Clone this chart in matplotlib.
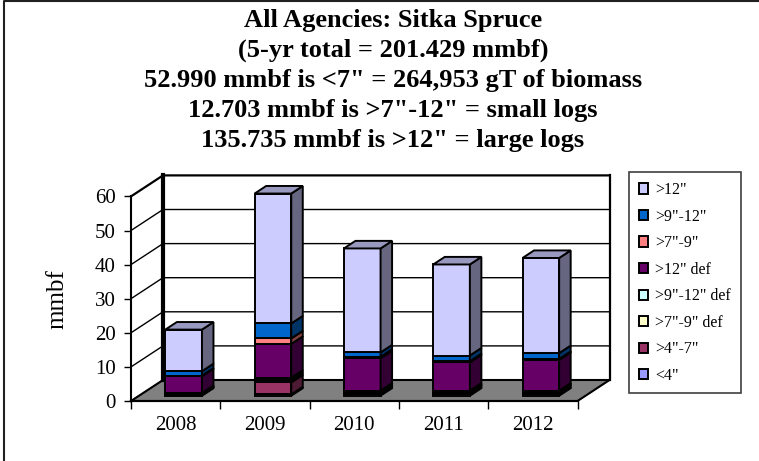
import numpy as np
import matplotlib
matplotlib.use('Agg')
import matplotlib.pyplot as plt
from matplotlib.lines import Line2D
from matplotlib.patches import Patch
from matplotlib.colors import to_rgb

years = ['2008', '2009', '2010', '2011', '2012']
y_ticks = [0, 10, 20, 30, 40, 50, 60]

# mmbf per size class, bottom of the stack first
lt4 = [0.3, 0.4, 0.4, 0.4, 0.4]
g4_7 = [0.2, 3.5, 0.4, 0.4, 0.4]
g7_9_def = [0.15, 0.7, 0.35, 0.35, 0.35]
g9_12_def = [0.15, 0.7, 0.35, 0.35, 0.35]
g12_def = [4.9, 9.9, 9.5, 8.3, 9.0]
g7_9 = [0.2, 1.6, 0.4, 0.3, 0.3]
g9_12 = [1.3, 4.4, 1.3, 1.7, 1.7]
g12 = [12.2, 38.1, 30.5, 26.7, 27.9]

series = [lt4, g4_7, g7_9_def, g9_12_def, g12_def, g7_9, g9_12, g12]
labels = ['<4"', '>4"-7"', '>7"-9" def', '>9"-12" def', '>12" def',
          '>7"-9"', '>9"-12"', '>12"']
colors = ['#9999FF', '#993366', '#FFFFCC', '#CCFFFF', '#660066',
          '#FF8080', '#0066CC', '#CCCCFF']

title_lines = ['All Agencies: Sitka Spruce',
               '(5-yr total = 201.429 mmbf)',
               '52.990 mmbf is <7" = 264,953 gT of biomass',
               '12.703 mmbf is >7"-12" = small logs',
               '135.735 mmbf is >12" = large logs']

W, H = 759, 461
X0, Y0 = 131, 401      # pixel position of the front corner of the origin
CAT_PX, VAL_PX = 89.3, 3.41
DX, DY = 32 / CAT_PX, 21 / VAL_PX   # oblique offset of the full chart depth
BAR_W = 0.41
D0, D1 = 0.25, 0.61    # bar front/back as a share of the depth


def proj(x, v, d=0.0):
    return x + d * DX, v + d * DY


def shade(color, f):
    return tuple(c * f for c in to_rgb(color))


plt.rcParams['font.family'] = ['Liberation Serif', 'DejaVu Serif']
fig = plt.figure(figsize=(W / 100, H / 100), dpi=100)
ax = fig.add_axes([0, 0, 1, 1])
ax.set_xlim(-X0 / CAT_PX, (W - X0) / CAT_PX)
ax.set_ylim((Y0 - H) / VAL_PX, Y0 / VAL_PX)
ax.patch.set_visible(False)

n = len(years)
# floor
ax.fill(*zip(proj(0, 0), proj(n, 0), proj(n, 0, 1), proj(0, 0, 1)),
        color='#808080', zorder=1)
ax.plot(*zip(proj(0, 0), proj(n, 0), proj(n, 0, 1), proj(0, 0, 1), proj(0, 0)),
        color='k', lw=1.5, zorder=2)
# grid on back and left walls
for v in y_ticks[1:]:
    ax.plot(*zip(proj(0, v), proj(0, v, 1), proj(n, v, 1)), color='k',
            lw=1.6 if v == 60 else 1, zorder=2)
ax.plot(*zip(proj(0, 0, 1), proj(0, 60, 1)), color='k', lw=3, zorder=2)
ax.plot(*zip(proj(n, 0, 1), proj(n, 60, 1)), color='k', lw=1.6, zorder=2)

# bars
for i in range(n):
    left, right = i + 0.5 - BAR_W / 2, i + 0.5 + BAR_W / 2
    bottom = 0.0
    top = sum(s[i] for s in series)
    for s, c in zip(series, colors):
        val = s[i]
        if val <= 0:
            continue
        v0, v1 = bottom, bottom + val
        ax.fill(*zip(proj(left, v0, D0), proj(right, v0, D0),
                     proj(right, v1, D0), proj(left, v1, D0)),
                facecolor=c, edgecolor='k', lw=1.4, zorder=3)
        ax.fill(*zip(proj(right, v0, D0), proj(right, v0, D1),
                     proj(right, v1, D1), proj(right, v1, D0)),
                facecolor=shade(c, 0.5), edgecolor='k', lw=1.4, zorder=3)
        bottom = v1
    ax.fill(*zip(proj(left, top, D0), proj(right, top, D0),
                 proj(right, top, D1), proj(left, top, D1)),
            facecolor=shade(colors[-1], 0.75), edgecolor='k', lw=1.4, zorder=3)

# real axes along the front edges
for name in ('top', 'right'):
    ax.spines[name].set_visible(False)
ax.spines['left'].set_position(('data', 0))
ax.spines['left'].set_bounds(0, 60)
ax.spines['left'].set_linewidth(1.5)
ax.spines['bottom'].set_position(('data', 0))
ax.spines['bottom'].set_bounds(0, n)
ax.spines['bottom'].set_linewidth(1.5)
ax.set_yticks(y_ticks)
ax.tick_params(axis='y', length=5, width=1, pad=6, labelsize=15)
ax.set_xticks(range(n + 1))
ax.set_xticklabels([])
ax.set_xticks(np.arange(n) + 0.5, years, minor=True)
ax.tick_params(axis='x', which='major', length=6, width=1)
ax.tick_params(axis='x', which='minor', length=0, pad=11, labelsize=15)
ax.set_ylabel('mmbf', fontsize=18)
ax.yaxis.set_label_coords(68 / W, 1 - 299 / H)

# title
for k, line in enumerate(title_lines):
    fig.text(393 / W, 1 - (20 + 30 * k) / H, line, ha='center', va='center',
             fontsize=19, fontweight='bold')

# legend
handles = [Patch(facecolor=c, edgecolor='k', lw=1.4)
           for c in colors[::-1]]
leg = ax.legend(handles, labels[::-1], loc='upper left',
                bbox_to_anchor=(629 / W, 1 - 172.5 / H),
                bbox_transform=fig.transFigure, fontsize=11.5, fancybox=False,
                framealpha=1, edgecolor='#404040', borderaxespad=0,
                handlelength=0.6, handleheight=0.6, handletextpad=0.45,
                labelspacing=0.66, borderpad=0.6)
leg.get_frame().set_linewidth(1.2)

# chart border, only top and left were kept in the picture
fig.add_artist(Line2D([3.5 / W, 3.5 / W, 1], [0, 1 - 1.5 / H, 1 - 1.5 / H],
                      color='#202020', lw=1.5))

fig.savefig('out.png', dpi=100)
plt.close(fig)
